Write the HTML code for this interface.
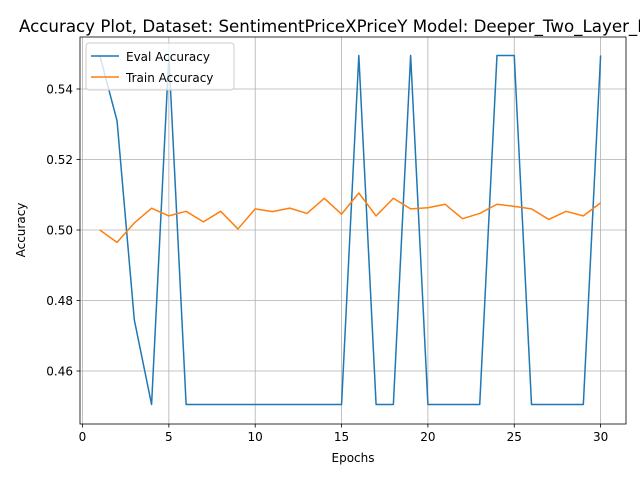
<!DOCTYPE html>
<html><head><meta charset="utf-8"><style>
body{margin:0;background:#fff;overflow:hidden;}
svg{font-family:"DejaVu Sans","Liberation Sans",sans-serif;display:block;}
</style></head><body>
<svg id="chart" width="640" height="480" viewBox="0 0 640 480">
<rect width="640" height="480" fill="#fff"/>
<text x="19" y="32" font-size="16.67" text-anchor="start">Accuracy Plot, Dataset: SentimentPriceXPriceY Model: Deeper_Two_Layer_LSTM</text>
<g id="grid"></g>
<g id="ticks"></g>
<g id="series"></g>
<rect x="80" y="37" width="546" height="387" fill="none" stroke="#000" stroke-width="0.8"/>
<text x="353" y="462" font-size="12" text-anchor="middle">Epochs</text>
<text x="25" y="230" font-size="12" text-anchor="middle" transform="rotate(-90 25 230)">Accuracy</text>
<g>
<rect x="86" y="43" width="148" height="47" rx="3" fill="#fff" fill-opacity="0.8" stroke="#ccc"/>
<line x1="91" y1="56" x2="119" y2="56" stroke="#1f77b4" stroke-width="1.5"/>
<text x="126" y="61" font-size="12">Eval Accuracy</text>
<line x1="91" y1="77" x2="119" y2="77" stroke="#ff7f0e" stroke-width="1.5"/>
<text x="126" y="82" font-size="12">Train Accuracy</text>
</g>
</svg>
<script>
const epochs=[1,2,3,4,5,6,7,8,9,10,11,12,13,14,15,16,17,18,19,20,21,22,23,24,25,26,27,28,29,30];
const evalAcc=[0.5495,0.531,0.4745,0.4505,0.5495,0.4505,0.4505,0.4505,0.4505,0.4505,0.4505,0.4505,0.4505,0.4505,0.4505,0.5495,0.4505,0.4505,0.5495,0.4505,0.4505,0.4505,0.4505,0.5495,0.5495,0.4505,0.4505,0.4505,0.4505,0.5495];
const trainAcc=[0.500,0.4965,0.502,0.5062,0.504,0.5053,0.5023,0.5053,0.5003,0.506,0.5052,0.5062,0.5047,0.509,0.5045,0.5105,0.504,0.509,0.506,0.5063,0.5073,0.5032,0.5047,0.5073,0.5067,0.506,0.503,0.5053,0.504,0.5077];
const xTicks=[0,5,10,15,20,25,30];
const yTicks=[0.46,0.48,0.50,0.52,0.54];
const NS="http://www.w3.org/2000/svg";
const X=v=>82.5+(v)*17.27;
const Y=v=>371-(v-0.46)*3525;
const grid=document.getElementById('grid'),ticks=document.getElementById('ticks'),series=document.getElementById('series');
function mk(tag,attrs,parent){const e=document.createElementNS(NS,tag);for(const k in attrs)e.setAttribute(k,attrs[k]);parent.appendChild(e);return e;}
xTicks.forEach(t=>{
  const g=mk('line',{x1:X(t),x2:X(t),y1:37,y2:424,stroke:'#b0b0b0','stroke-width':0.8},grid);
  
  
  mk('line',{x1:X(t),x2:X(t),y1:424,y2:427.5,stroke:'#000','stroke-width':0.8},ticks);
  const tx=mk('text',{x:X(t),y:441,'font-size':12,'text-anchor':'middle'},ticks);
  tx.textContent=t;
  
  
});
yTicks.forEach(t=>{
  const g=mk('line',{x1:80,x2:626,y1:Y(t),y2:Y(t),stroke:'#b0b0b0','stroke-width':0.8},grid);
  
  
  mk('line',{x1:76.5,x2:80,y1:Y(t),y2:Y(t),stroke:'#000','stroke-width':0.8},ticks);
  const tx=mk('text',{x:73,y:Y(t)+4.5,'font-size':12,'text-anchor':'end'},ticks);
  tx.textContent=t.toFixed(2);
  
  
});
function line(vals,color,name){
  const p=mk('polyline',{points:vals.map((v,i)=>X(epochs[i])+','+Y(v)).join(' '),fill:'none',stroke:color,'stroke-width':1.5,'stroke-linejoin':'round'},series);
  
  
}
line(evalAcc,'#1f77b4','eval-accuracy-line');
line(trainAcc,'#ff7f0e','train-accuracy-line');
</script>
</body></html>
